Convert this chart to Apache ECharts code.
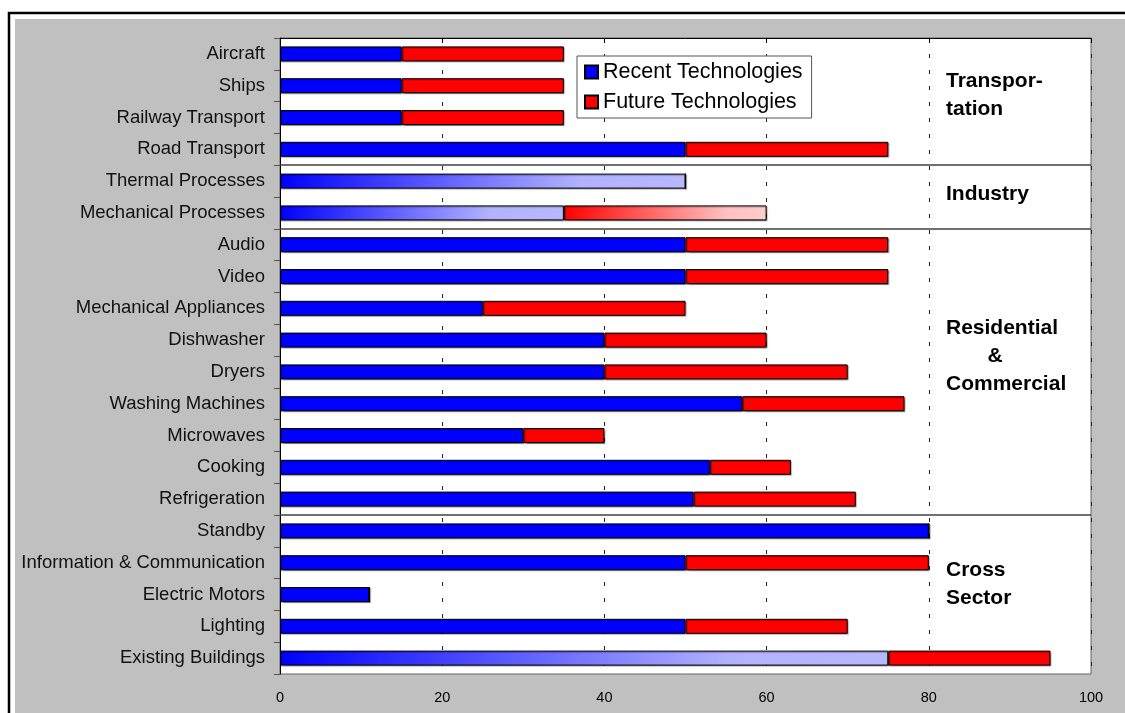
<!DOCTYPE html>
<html>
<head>
<meta charset="utf-8">
<script src="https://cdn.jsdelivr.net/npm/echarts@6/dist/echarts.min.js"></script>
<style>
html,body{margin:0;padding:0;background:#fff;}
#chart{width:1125px;height:713px;}
</style>
</head>
<body>
<div id="chart"></div>
<script>
// ---- data ----
const categories = [
  'Aircraft','Ships','Railway Transport','Road Transport',
  'Thermal Processes','Mechanical Processes',
  'Audio','Video','Mechanical Appliances','Dishwasher','Dryers','Washing Machines','Microwaves','Cooking','Refrigeration',
  'Standby','Information & Communication','Electric Motors','Lighting','Existing Buildings'
];
const recentValues = [15,15,15,50, 50,35, 50,50,25,40,40,57,30,53,51, 80,50,11,50,75];
const futureValues = [20,20,20,25, 0,25, 25,25,25,20,30,20,10,10,20, 0,30,0,20,20];
const gradientRecent = ['Thermal Processes','Mechanical Processes','Existing Buildings'];
const gradientFuture = ['Mechanical Processes'];
const sectionBreaks = [4, 6, 15];
const xTicks = [0, 20, 40, 60, 80, 100];
const seriesNames = ['Recent Technologies', 'Future Technologies'];

const FONT = 'Liberation Sans, Arial, sans-serif';
const blueGrad = new echarts.graphic.LinearGradient(0,0,1,0,[
  {offset:0,color:'#0000FF'},{offset:0.74,color:'#B2B2FF'},{offset:1,color:'#B8B8FF'}]);
const redGrad = new echarts.graphic.LinearGradient(0,0,1,0,[
  {offset:0,color:'#FF0000'},{offset:0.8,color:'#FFC0C0'},{offset:1,color:'#FFCCCC'}]);

const recentData = recentValues.map((v,i)=> gradientRecent.includes(categories[i]) ? {value:v,itemStyle:{color:blueGrad}} : v);
const futureData = futureValues.map((v,i)=> gradientFuture.includes(categories[i]) ? {value:v,itemStyle:{color:redGrad}} : v);

const barStyle = (c)=>({color:c,borderColor:'#000',borderWidth:1,shadowColor:'rgba(0,0,0,0.35)',shadowBlur:1,shadowOffsetX:1,shadowOffsetY:1});

const sectionText = (text,x,y,align)=>({type:'text',z:100,style:{text:text,x:x,y:y,fill:'#000',font:'bold 21px '+FONT,textAlign:align||'left',textVerticalAlign:'middle'}});

const chart = echarts.init(document.getElementById('chart'));
chart.setOption({
  backgroundColor:'#fff',
  animation:false,
  graphic:{elements:[
    {type:'rect',z:-100,shape:{x:9,y:13,width:1200,height:800},style:{fill:'#fff',stroke:'#000',lineWidth:2.5}},
    {type:'rect',z:-99,shape:{x:15,y:19,width:1200,height:800},style:{fill:'#C0C0C0'}},
    sectionText('Transpor-',946,81),
    sectionText('tation',946,109.5),
    sectionText('Industry',946,194),
    sectionText('Residential',946,328),
    sectionText('&',995,356,'center'),
    sectionText('Commercial',946,384),
    sectionText('Cross',946,570.5),
    sectionText('Sector',946,598)
  ]},
  legend:{
    orient:'vertical',left:577,top:56,
    data:seriesNames,
    itemWidth:13,itemHeight:13,itemGap:8,
    padding:[5,9,5,7],
    backgroundColor:'#fff',borderColor:'#555',borderWidth:1,
    icon:'rect',
    textStyle:{fontSize:21.5,lineHeight:22,color:'#000',fontFamily:FONT}
  },
  grid:{left:280,right:34,top:38,bottom:39,show:true,backgroundColor:'#fff',borderColor:'#666',borderWidth:1},
  xAxis:{
    type:'value',min:xTicks[0],max:xTicks[xTicks.length-1],interval:20,
    axisLine:{show:true,lineStyle:{color:'#000',width:1}},
    axisTick:{show:true,length:5,lineStyle:{color:'#000'}},
    axisLabel:{fontSize:14.5,color:'#000',fontFamily:FONT,margin:16},
    splitLine:{show:true,lineStyle:{color:'#222',width:1,type:[4,12]}}
  },
  yAxis:[{
    type:'category',data:categories,inverse:true,
    axisLine:{show:true,lineStyle:{color:'#000',width:1}},
    axisTick:{show:true,length:6,lineStyle:{color:'#555'}},
    axisLabel:{fontSize:18.5,color:'#111',fontFamily:FONT,margin:15},
    splitLine:{show:false}
  },{
    type:'value',min:0,max:categories.length,inverse:true,show:false
  }],
  series:[
    {name:seriesNames[0],type:'bar',stack:'total',barWidth:15,data:recentData,itemStyle:barStyle('#0000FF'),z:3},
    {name:seriesNames[1],type:'bar',stack:'total',barWidth:15,data:futureData,itemStyle:barStyle('#FF0000'),z:3},
    {name:'sections',type:'line',xAxisIndex:0,yAxisIndex:1,data:[],silent:true,
     markLine:{symbol:'none',silent:true,animation:false,label:{show:false},
       lineStyle:{color:'#404040',width:1.5,type:'solid'},
       data:sectionBreaks.map(v=>({yAxis:v}))}}
  ]
});
</script>
</body>
</html>
